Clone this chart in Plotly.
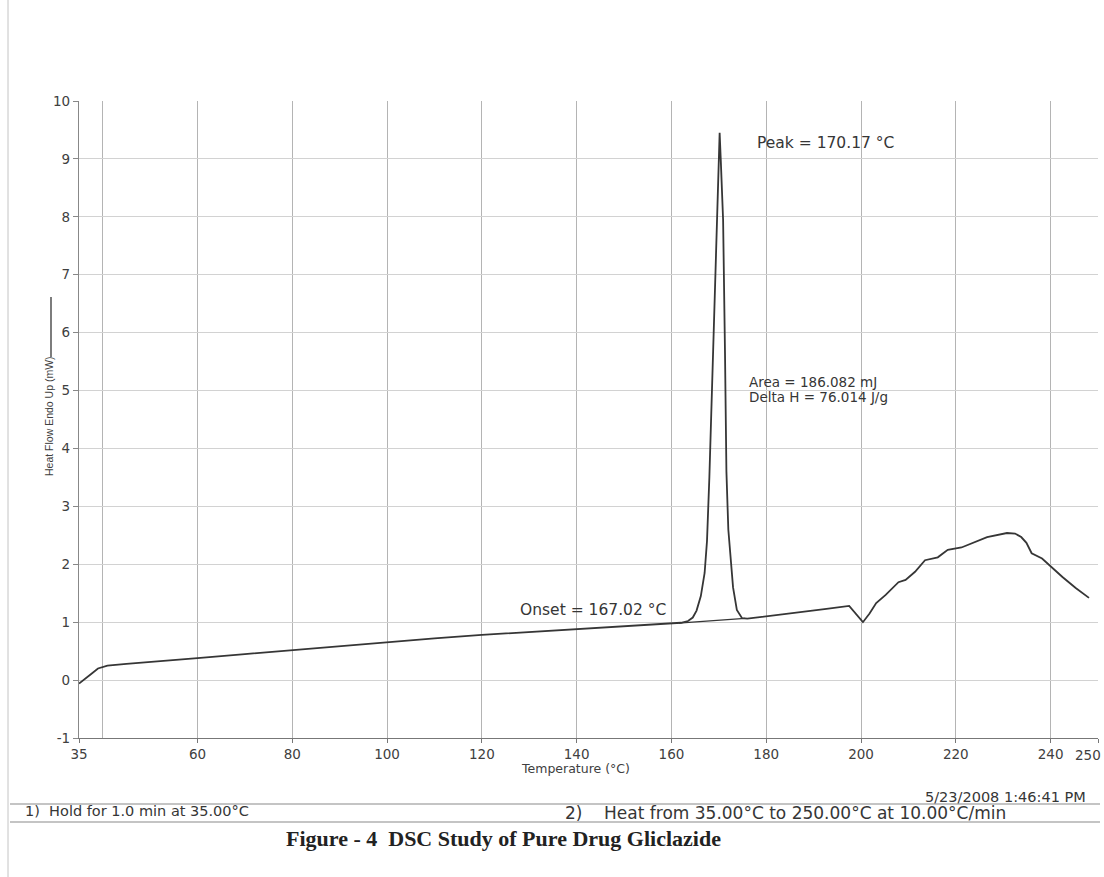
import plotly.graph_objects as go

# DSC heating scan of gliclazide: temperature (°C) vs heat flow (mW), endo up
pre_temp = [35, 36, 37.5, 39, 41, 45, 50, 60, 70, 80, 90, 100, 110, 120, 130,
            140, 150, 160, 162, 163.5, 164.5, 165.3, 166.2, 167.0, 167.5, 168.0,
            168.5, 169.0, 169.5, 169.9]
pre_flow = [-0.06, 0.0, 0.1, 0.2, 0.25, 0.28, 0.31, 0.38, 0.45, 0.52, 0.59, 0.65,
            0.72, 0.78, 0.83, 0.88, 0.93, 0.97, 0.99, 1.02, 1.08, 1.2, 1.45, 1.85,
            2.4, 3.5, 4.8, 6.0, 7.3, 8.4]

peak_temp = 170.17
peak_flow = 9.45
onset_temp = 167.02
area_mj = 186.082
delta_h = 76.014

post_temp = [170.4, 170.9, 171.3, 171.6, 172.0, 172.6, 173.0, 173.8, 174.9, 176.0,
             182.2, 187.5, 192.7, 197.5, 200.4, 201.8, 203.2, 205.2, 206.5, 207.9,
             209.4, 211.4, 213.5, 216.2, 218.3, 221.2, 226.6, 230.8, 232.5, 233.8,
             234.9, 236.0, 238.2, 242.5, 245.3, 248.1]
post_flow = [9.0, 7.95, 5.65, 3.6, 2.6, 1.9, 1.6, 1.21, 1.07, 1.06,
             1.12, 1.17, 1.23, 1.28, 1.0, 1.15, 1.33, 1.47, 1.58, 1.69,
             1.73, 1.87, 2.07, 2.12, 2.25, 2.29, 2.47, 2.54, 2.53, 2.47,
             2.37, 2.19, 2.10, 1.78, 1.59, 1.42]

# integration baseline under the melting endotherm
base_temp = [161.5, 175.5]
base_flow = [0.985, 1.065]

x_tickvals = [35, 60, 80, 100, 120, 140, 160, 180, 200, 220, 240, 250]
x_gridvals = [40, 60, 80, 100, 120, 140, 160, 180, 200, 220, 240]
y_tickvals = list(range(-1, 11))
x_max = x_tickvals[-1]

temp_c = pre_temp + [peak_temp] + post_temp
heat_flow = pre_flow + [peak_flow] + post_flow

W, H = 1104, 877
L, R, T, B = 79, 6, 101, 139
PW, PH = W - L - R, H - T - B


def px(xp):
    return (xp - L) / PW


def py(yp):
    return (H - B - yp) / PH


INK = "#363636"
LABEL = "#404040"
sans = "DejaVu Sans"
tick_font = dict(family=sans, size=13.5, color=LABEL)

# the last tick label sits flush with the right page edge
x_ticktext = [str(v) for v in x_tickvals[:-1]] + [""]

fig = go.Figure()
fig.add_trace(go.Scatter(x=base_temp, y=base_flow, mode="lines",
                         line=dict(color=INK, width=1.3), hoverinfo="skip",
                         showlegend=False))
fig.add_trace(go.Scatter(x=temp_c, y=heat_flow, mode="lines",
                         line=dict(color=INK, width=1.8), showlegend=False))

fig.update_xaxes(
    range=[35, x_max], tickmode="array", tickvals=x_tickvals,
    ticktext=x_ticktext, showgrid=False, zeroline=False,
    showline=True, linecolor="#777777", linewidth=1.2, automargin=False,
    ticks="outside", ticklen=4, tickcolor="#777777",
    tickfont=tick_font,
    minor=dict(tickmode="array", tickvals=x_gridvals, showgrid=True,
               gridcolor="#b4b4b4", gridwidth=1.2, ticks=""),
)
fig.update_yaxes(
    range=[-1, 10], tickmode="array", tickvals=y_tickvals,
    ticktext=[str(v) for v in y_tickvals],
    showgrid=True, gridcolor="#d2d2d2", gridwidth=1, zeroline=False,
    showline=True, linecolor="#888888", linewidth=1.2, automargin=False,
    ticks="outside", ticklen=5, tickcolor="#888888",
    ticklabeloverflow="allow",
    tickfont=tick_font,
)

annotations = [
    dict(x=x_max, y=py(745), xref="x", yref="paper", xanchor="right",
         yanchor="top", xshift=5, text=str(x_max), showarrow=False,
         font=tick_font),
    dict(x=177.6, y=9.27, xref="x", yref="y", xanchor="left", yanchor="middle",
         text=f"Peak = {peak_temp:.2f} °C", showarrow=False,
         font=dict(family=sans, size=15.5, color=INK)),
    dict(x=127.6, y=1.21, xref="x", yref="y", xanchor="left", yanchor="middle",
         text=f"Onset = {onset_temp:.2f} °C", showarrow=False,
         font=dict(family=sans, size=15.5, color=INK)),
    dict(x=px(747), y=py(382), xref="paper", yref="paper", xanchor="left",
         yanchor="middle", text=f"Area = {area_mj:.3f} mJ", showarrow=False,
         font=dict(family=sans, size=13.5, color=INK)),
    dict(x=px(747), y=py(397), xref="paper", yref="paper", xanchor="left",
         yanchor="middle", text=f"Delta H = {delta_h:.3f} J/g", showarrow=False,
         font=dict(family=sans, size=13.5, color=INK)),
    dict(x=px(575), y=py(768), xref="paper", yref="paper", xanchor="center",
         yanchor="middle", text="Temperature (°C)", showarrow=False,
         font=dict(family=sans, size=12.5, color=LABEL)),
    dict(x=px(49), y=py(416), xref="paper", yref="paper", xanchor="center",
         yanchor="middle", text="Heat Flow Endo Up (mW)", textangle=-90,
         showarrow=False,
         font=dict(family="Liberation Sans", size=10.5, color=LABEL)),
    dict(x=px(1088), y=py(797), xref="paper", yref="paper", xanchor="right",
         yanchor="middle", text="5/23/2008 1:46:41 PM", showarrow=False,
         font=dict(family=sans, size=14.5, color=INK)),
    dict(x=px(23), y=py(811), xref="paper", yref="paper", xanchor="left",
         yanchor="middle", text="1)  Hold for 1.0 min at 35.00°C",
         showarrow=False, font=dict(family=sans, size=14.5, color=INK)),
    dict(x=px(563), y=py(813), xref="paper", yref="paper", xanchor="left",
         yanchor="middle",
         text="2)    Heat from 35.00°C to 250.00°C at 10.00°C/min",
         showarrow=False, font=dict(family=sans, size=17, color=INK)),
    dict(x=px(503), y=py(838), xref="paper", yref="paper", xanchor="center",
         yanchor="middle", text="<b>Figure - 4  DSC Study of Pure Drug Gliclazide</b>",
         showarrow=False,
         font=dict(family="Liberation Serif", size=22, color="#222222")),
]

shapes = [
    # legend stroke beside the y-axis title
    dict(type="line", xref="paper", yref="paper", x0=px(51), x1=px(51),
         y0=py(297), y1=py(357), line=dict(color=INK, width=1.3)),
    # method summary box
    dict(type="line", xref="paper", yref="paper", x0=px(10), x1=px(1100),
         y0=py(804), y1=py(804), line=dict(color="#8a8a8a", width=1.2)),
    dict(type="line", xref="paper", yref="paper", x0=px(10), x1=px(1100),
         y0=py(822), y1=py(822), line=dict(color="#8a8a8a", width=1.2)),
    # page edge
    dict(type="line", xref="paper", yref="paper", x0=px(8), x1=px(8),
         y0=py(0), y1=py(877), line=dict(color="#c4c4c4", width=1)),
]

fig.update_layout(
    width=W, height=H,
    margin=dict(l=L, r=R, t=T, b=B),
    paper_bgcolor="white", plot_bgcolor="white",
    annotations=annotations, shapes=shapes,
    showlegend=False,
)

fig.write_html("out.html")
